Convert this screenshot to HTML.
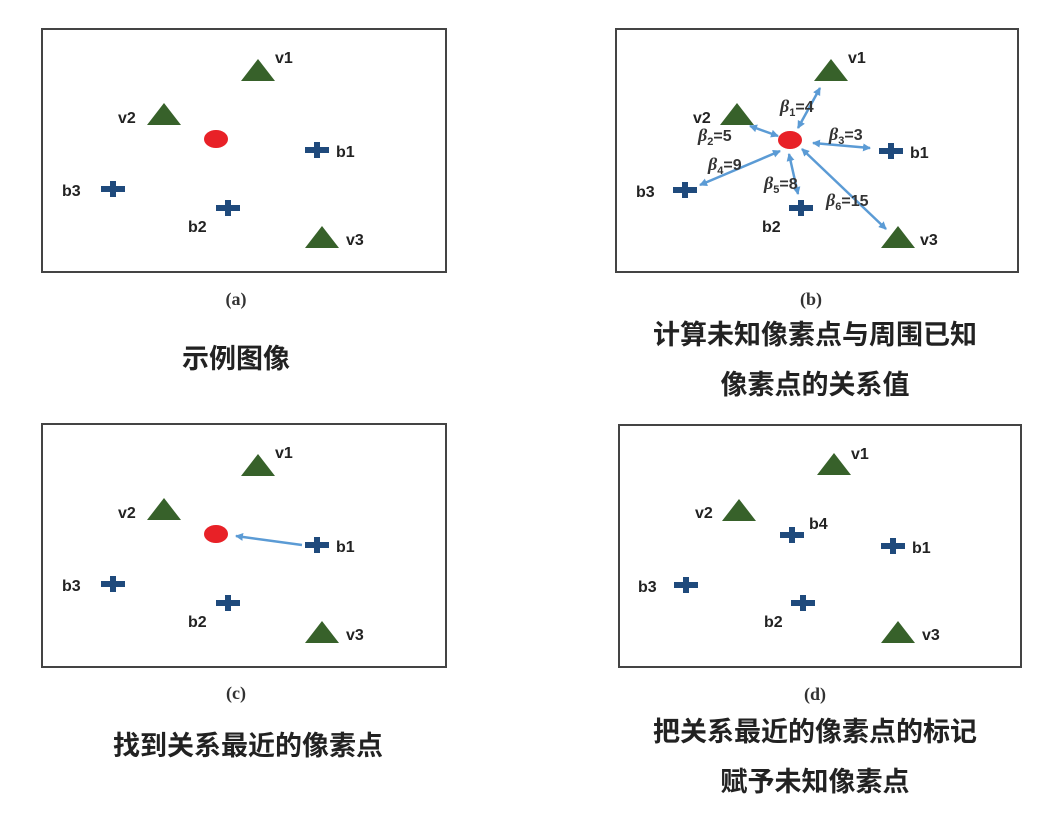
<!DOCTYPE html>
<html><head><meta charset="utf-8"><style>
html,body{margin:0;padding:0;background:#fff;}
svg{display:block;}
.l{font-family:"Liberation Sans",sans-serif;font-weight:bold;font-size:16px;fill:#222;}
.cap{font-family:"Liberation Serif",serif;font-weight:bold;font-size:18px;fill:#333;}
.zh{font-family:"Liberation Sans","Noto Sans CJK SC",sans-serif;font-weight:bold;font-size:27px;fill:#222;}
.be{font-family:"Liberation Sans",sans-serif;font-weight:bold;font-size:16px;fill:#333;}
.be .g{font-family:"Liberation Serif",serif;font-style:italic;font-size:18px;}
</style></head><body>
<svg width="1053" height="819" viewBox="0 0 1053 819" xmlns="http://www.w3.org/2000/svg">
<defs>
<g id="tri"><polygon points="0,-11 17,11 -17,11" fill="#37612a"/></g>
<g id="plus"><rect x="-12" y="-3" width="24" height="6" fill="#1f4a7c"/><rect x="-3" y="-8" width="6" height="16" fill="#1f4a7c"/></g>
<marker id="ah" markerWidth="8" markerHeight="8" refX="7" refY="4" orient="auto-start-reverse" markerUnits="userSpaceOnUse"><path d="M0,0 L8,4 L0,8 z" fill="#5b9bd5"/></marker>
</defs>
<g fill="none" stroke="#444" stroke-width="2">
<rect x="42" y="29" width="404" height="243"/>
<rect x="616" y="29" width="402" height="243"/>
<rect x="42" y="424" width="404" height="243"/>
<rect x="619" y="425" width="402" height="242"/>
</g>
<!-- panel a -->
<use href="#tri" x="258" y="70"/><use href="#tri" x="164" y="114"/><use href="#tri" x="322" y="237"/>
<ellipse cx="216" cy="139" rx="12" ry="9" fill="#e82127"/>
<use href="#plus" x="317" y="150"/><use href="#plus" x="113" y="189"/><use href="#plus" x="228" y="208"/>
<text class="l" x="275" y="63">v1</text><text class="l" x="118" y="123">v2</text><text class="l" x="336" y="157">b1</text>
<text class="l" x="62" y="196">b3</text><text class="l" x="188" y="232">b2</text><text class="l" x="346" y="245">v3</text>
<!-- panel b -->
<use href="#tri" x="831" y="70"/><use href="#tri" x="737" y="114"/><use href="#tri" x="898" y="237"/>
<ellipse cx="790" cy="140" rx="12" ry="9" fill="#e82127"/>
<use href="#plus" x="891" y="151"/><use href="#plus" x="685" y="190"/><use href="#plus" x="801" y="208"/>
<g stroke="#5b9bd5" stroke-width="2.5" marker-start="url(#ah)" marker-end="url(#ah)">
<line x1="798" y1="128" x2="820" y2="88"/>
<line x1="750" y1="126" x2="778" y2="136"/>
<line x1="813" y1="143" x2="870" y2="148"/>
<line x1="780" y1="151" x2="700" y2="185"/>
<line x1="789" y1="154" x2="798" y2="194"/>
<line x1="802" y1="149" x2="886" y2="229"/>
</g>
<text class="l" x="848" y="63">v1</text><text class="l" x="693" y="123">v2</text><text class="l" x="910" y="158">b1</text>
<text class="l" x="636" y="197">b3</text><text class="l" x="762" y="232">b2</text><text class="l" x="920" y="245">v3</text>
<text class="be" x="780" y="112"><tspan class="g">β</tspan><tspan font-size="11" dy="4">1</tspan><tspan dy="-4">=4</tspan></text>
<text class="be" x="698" y="141"><tspan class="g">β</tspan><tspan font-size="11" dy="4">2</tspan><tspan dy="-4">=5</tspan></text>
<text class="be" x="829" y="140"><tspan class="g">β</tspan><tspan font-size="11" dy="4">3</tspan><tspan dy="-4">=3</tspan></text>
<text class="be" x="708" y="170"><tspan class="g">β</tspan><tspan font-size="11" dy="4">4</tspan><tspan dy="-4">=9</tspan></text>
<text class="be" x="764" y="189"><tspan class="g">β</tspan><tspan font-size="11" dy="4">5</tspan><tspan dy="-4">=8</tspan></text>
<text class="be" x="826" y="206"><tspan class="g">β</tspan><tspan font-size="11" dy="4">6</tspan><tspan dy="-4">=15</tspan></text>
<!-- panel c -->
<use href="#tri" x="258" y="465"/><use href="#tri" x="164" y="509"/><use href="#tri" x="322" y="632"/>
<ellipse cx="216" cy="534" rx="12" ry="9" fill="#e82127"/>
<use href="#plus" x="317" y="545"/><use href="#plus" x="113" y="584"/><use href="#plus" x="228" y="603"/>
<line x1="302" y1="545" x2="236" y2="536" stroke="#5b9bd5" stroke-width="2.5" marker-end="url(#ah)"/>
<text class="l" x="275" y="458">v1</text><text class="l" x="118" y="518">v2</text><text class="l" x="336" y="552">b1</text>
<text class="l" x="62" y="591">b3</text><text class="l" x="188" y="627">b2</text><text class="l" x="346" y="640">v3</text>
<!-- panel d -->
<use href="#tri" x="834" y="464"/><use href="#tri" x="739" y="510"/><use href="#tri" x="898" y="632"/>
<use href="#plus" x="792" y="535"/><use href="#plus" x="893" y="546"/><use href="#plus" x="686" y="585"/><use href="#plus" x="803" y="603"/>
<text class="l" x="851" y="459">v1</text><text class="l" x="695" y="518">v2</text><text class="l" x="809" y="529">b4</text>
<text class="l" x="912" y="553">b1</text><text class="l" x="638" y="592">b3</text><text class="l" x="764" y="627">b2</text><text class="l" x="922" y="640">v3</text>
<!-- captions -->
<text class="cap" x="236" y="305" text-anchor="middle">(a)</text>
<text class="cap" x="811" y="305" text-anchor="middle">(b)</text>
<text class="cap" x="236" y="699" text-anchor="middle">(c)</text>
<text class="cap" x="815" y="700" text-anchor="middle">(d)</text>
<text class="zh" x="236" y="368" text-anchor="middle">示例图像</text>
<text class="zh" x="815" y="344" text-anchor="middle">计算未知像素点与周围已知</text>
<text class="zh" x="815" y="394" text-anchor="middle">像素点的关系值</text>
<text class="zh" x="248" y="755" text-anchor="middle">找到关系最近的像素点</text>
<text class="zh" x="815" y="741" text-anchor="middle">把关系最近的像素点的标记</text>
<text class="zh" x="815" y="791" text-anchor="middle">赋予未知像素点</text>
</svg>
</body></html>
